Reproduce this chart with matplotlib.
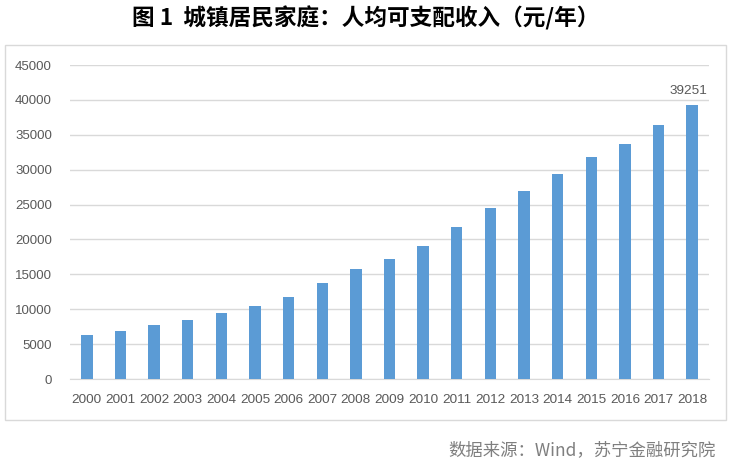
import matplotlib.pyplot as plt
from matplotlib.patches import Rectangle

plt.rcParams['font.family'] = ['Noto Sans CJK SC', 'DejaVu Sans']

years = [str(y) for y in range(2000, 2019)]
income = [6280, 6860, 7703, 8472, 9422, 10493, 11759, 13786, 15781, 17175,
          19109, 21810, 24565, 26955, 29381, 31790, 33616, 36396, 39251]
yticks = [0, 5000, 10000, 15000, 20000, 25000, 30000, 35000, 40000, 45000]

grey = '#595959'
line_grey = '#d9d9d9'

fig = plt.figure(figsize=(7.31, 4.62), dpi=100)

# outer frame around the chart area
fig.patches.append(Rectangle((5 / 731, 1 - 420 / 462), 721 / 731, 375 / 462,
                             transform=fig.transFigure, fill=False,
                             edgecolor=line_grey, linewidth=1))

ax = fig.add_axes([70 / 731, 1 - 379 / 462, 639 / 731, 314 / 462])
x = range(len(years))
ax.bar(x, income, width=0.34, color='#5B9BD5', zorder=3)
ax.set_xlim(-0.5, len(years) - 0.5)
ax.set_ylim(0, 45000)
ax.set_yticks(yticks)
ax.set_yticklabels([str(v) for v in yticks], fontsize=9.5, color=grey,
                   family='Liberation Sans')
ax.set_xticks(list(x))
ax.set_xticklabels(years, fontsize=9.7, color=grey, family='Liberation Sans')
ax.tick_params(axis='both', length=0)
ax.tick_params(axis='y', pad=13)
ax.tick_params(axis='x', pad=11)
ax.grid(axis='y', color=line_grey, linewidth=1, zorder=0)
for s in ['top', 'right', 'left']:
    ax.spines[s].set_visible(False)
ax.spines['bottom'].set_color(line_grey)

ax.annotate(str(income[-1]), (len(years) - 1, income[-1]), xytext=(-3, 6),
            textcoords='offset points', ha='center', va='bottom',
            fontsize=9.7, color=grey, family='Liberation Sans')

fig.text(0.5, 1 - 18 / 462, '图 1  城镇居民家庭：人均可支配收入（元/年）',
         ha='center', va='center', fontsize=16.3, fontweight='heavy', color='black')
fig.text(716 / 731, 1 - 450 / 462, '数据来源：Wind，苏宁金融研究院',
         ha='right', va='center', fontsize=12.5, color='#7f7f7f', style='italic')

fig.savefig('out.png', dpi=100)
